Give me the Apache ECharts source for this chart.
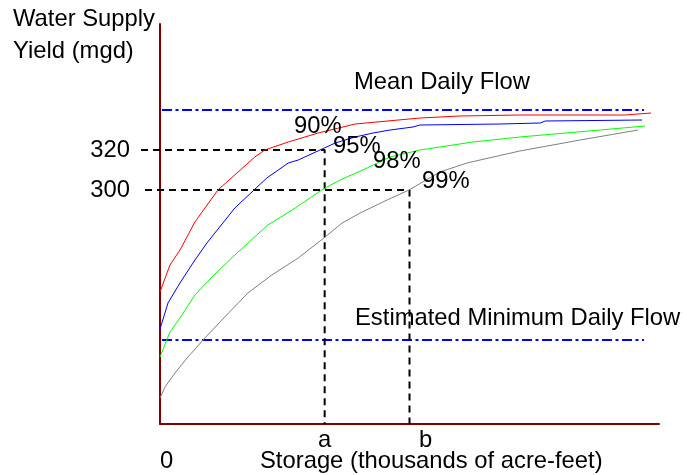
<!DOCTYPE html>
<html>
<head>
<meta charset="utf-8">
<script src="https://cdn.jsdelivr.net/npm/echarts@6/dist/echarts.min.js"></script>
<style>html,body{margin:0;padding:0;background:#fff}#c{width:687px;height:475px}</style>
</head>
<body>
<div id="c"></div>
<script>
// Storage (x, arbitrary 0-100 scale) and yield (mgd)
const red90X = [0, 2, 4, 7, 11.6, 19, 21, 25.7, 31.7, 39.1, 52.1, 60.1, 72.1, 93.2, 98.4];
const red90Y = [249, 262.5, 270, 284, 300, 316.5, 320, 324, 328.5, 333, 336, 337, 337.5, 337.5, 338.5];
const blue95X = [0, 1.6, 4, 7, 9.4, 15, 21.4, 25.7, 27.7, 32.5, 35.1, 39.1, 42.7, 46.1, 50.7, 52.1, 68.1, 76.2, 77.2, 96.6];
const blue95Y = [230.5, 243.5, 253.5, 265, 273.5, 291, 306, 313.5, 315, 320.5, 323.5, 326.5, 328.5, 330, 331.5, 332.5, 333, 333.5, 334.5, 335];
const green98X = [0, 2, 4, 7, 10.4, 15, 21.6, 26.5, 32.7, 36.1, 41.5, 46.1, 52.1, 62.7, 72.1, 88.2, 97.2];
const green98Y = [216.5, 229, 236, 247.5, 256.5, 267.5, 282.5, 290, 300.5, 305, 311, 316.5, 320, 324, 326.5, 330, 332];
const gray99X = [0, 1, 3, 5.6, 9, 12.4, 17.6, 22.4, 27.7, 33.1, 36.5, 40.1, 45.5, 49.9, 56.1, 61.5, 72.1, 84.2, 95.8];
const gray99Y = [196, 201.5, 208.5, 216.5, 226, 235, 248.5, 257.5, 266, 276.5, 283.5, 288.5, 295, 300, 309, 313.5, 319.5, 325, 330];

const meanDailyFlow = 340;
const minDailyFlow = 225;
const flowLineX = [0.4, 97];
const yieldTicks = [300, 320];
const storageA = 33;
const storageB = 50;
const guideStartX = [-3.8, -3];
const xTickLabels = ['a', 'b'];

const FONT = '"Liberation Sans", Arial, sans-serif';
const FS = 23.8;

function pairs(xs, ys) { return xs.map((x, i) => [x, ys[i]]); }

const chart = echarts.init(document.getElementById('c'), null, { renderer: 'canvas' });

const curve = (name, xs, ys, color) => ({
  name, type: 'line', data: pairs(xs, ys), symbol: 'none', clip: false,
  lineStyle: { color, width: 1 }, silent: true, z: 3
});
const guide = (data) => ({
  type: 'line', data, symbol: 'none', clip: false, silent: true, z: 2,
  xAxisIndex: 1, yAxisIndex: 1,
  lineStyle: { color: '#000', width: 2, type: [7, 5] }
});
const flow = (v) => ({
  type: 'line', data: flowLineX.map(x => [x, v]), symbol: 'none', clip: false, silent: true, z: 2,
  lineStyle: { color: '#0000ff', width: 2, type: [10, 3.5, 3, 3.5] }
});

const txt = (text, x, y) => ({
  type: 'text', x, y, z: 10,
  style: { text, font: FS + 'px ' + FONT, fill: '#000', align: 'left', verticalAlign: 'middle' }
});

chart.setOption({
  animation: false,
  backgroundColor: '#fff',
  grid: [
    { left: 160, right: 28, top: 24, height: 400 },
    { left: 140, right: 28, top: 24, height: 400 }
  ],
  xAxis: [{
    type: 'value', min: 0, max: 100, gridIndex: 0,
    splitLine: { show: false },
    axisTick: { show: false },
    axisLine: { show: true, lineStyle: { color: '#800000', width: 2 } },
    axisLabel: {
      customValues: [storageA, storageB],
      margin: 4,
      fontSize: FS, fontFamily: FONT, color: '#000',
      formatter: (v) => v === storageA ? xTickLabels[0] : '{b|' + xTickLabels[1] + '}',
      rich: { b: { fontSize: FS, fontFamily: FONT, color: '#000', padding: [0, 0, 0, 32] } }
    }
  }, {
    type: 'value', gridIndex: 1, min: -20 / 4.99, max: 100, show: false
  }],
  yAxis: [{
    type: 'value', min: 183, max: 383, gridIndex: 0,
    splitLine: { show: false },
    axisTick: { show: false },
    axisLine: { show: true, onZero: false, lineStyle: { color: '#800000', width: 2 } },
    axisLabel: {
      customValues: yieldTicks,
      margin: 30,
      fontSize: FS, fontFamily: FONT, color: '#000'
    }
  }, {
    type: 'value', gridIndex: 1, min: 183, max: 383, show: false
  }],
  series: [
    flow(meanDailyFlow),
    flow(minDailyFlow),
    guide([[guideStartX[0], yieldTicks[1]], [storageA, yieldTicks[1]], [storageA, 183]]),
    guide([[guideStartX[1], yieldTicks[0]], [storageB, yieldTicks[0]], [storageB, 183]]),
    curve('90%', red90X, red90Y, '#ff0000'),
    curve('95%', blue95X, blue95Y, '#0000ff'),
    curve('98%', green98X, green98Y, '#00ff00'),
    curve('99%', gray99X, gray99Y, '#808080')
  ],
  graphic: [
    txt('Water Supply', 13, 19.2),
    txt('Yield (mgd)', 13, 51.7),
    txt('Mean Daily Flow', 354, 82.8),
    txt('Estimated Minimum Daily Flow', 355, 318.3),
    txt('90%', 294, 126.5),
    txt('95%', 333, 146.5),
    txt('98%', 373, 161),
    txt('99%', 422, 181.5),
    txt('0', 160, 461.5),
    txt('Storage (thousands of acre-feet)', 260, 461)
  ]
});
</script>
</body>
</html>
